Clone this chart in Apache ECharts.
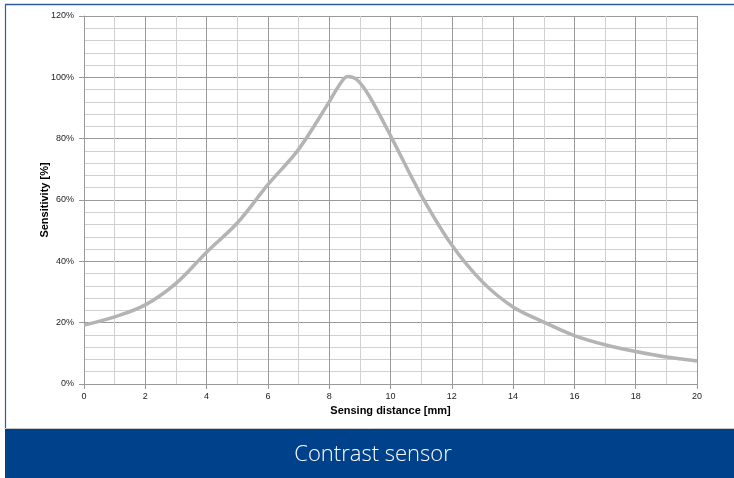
<!DOCTYPE html>
<html>
<head>
<meta charset="utf-8">
<script src="https://cdn.jsdelivr.net/npm/echarts@6/dist/echarts.min.js"></script>
<style>
html,body{margin:0;padding:0;background:#fff;}
#chart{width:734px;height:478px;}
</style>
</head>
<body>
<div id="chart"></div>
<script>
var distances = [0, 1, 2, 3, 4, 5, 6, 7, 8, 8.3, 8.6, 8.9, 9.3, 10, 11, 12, 13, 14, 15, 16, 17, 18, 19, 20];
var sensitivity = [19.2, 21.9, 25.8, 32.8, 43, 52.5, 65, 76.5, 92, 97, 100.3, 99.3, 94, 81, 61.6, 45.3, 33.3, 25.1, 20.2, 15.8, 12.8, 10.6, 8.8, 7.5];
var chartTitle = "Contrast sensor";
var xName = "Sensing distance [mm]";
var yName = "Sensitivity [%]";

var points = distances.map(function (d, i) { return [d, sensitivity[i]]; });
var chart = echarts.init(document.getElementById('chart'), null, {renderer: 'canvas'});
var font = "'Liberation Sans', Arial, sans-serif";
chart.setOption({
  animation: false,
  grid: {left: 84, right: 37, top: 16, bottom: 94},
  xAxis: {
    type: 'value', min: 0, max: 20, interval: 2,
    name: xName, nameLocation: 'middle', nameGap: 21, nameMoveOverlap: false,
    nameTextStyle: {fontFamily: font, fontSize: 11, fontWeight: 'bold', color: '#000'},
    axisLine: {show: true, lineStyle: {color: '#999', width: 1}},
    axisTick: {show: true, length: 5, lineStyle: {color: '#999'}},
    axisLabel: {fontFamily: font, fontSize: 9, color: '#222', margin: 8},
    splitLine: {show: true, lineStyle: {color: '#9a9a9a', width: 1}},
    minorTick: {show: false, splitNumber: 2},
    minorSplitLine: {show: true, lineStyle: {color: '#d0d0d0', width: 1}}
  },
  yAxis: {
    type: 'value', min: 0, max: 120, interval: 20,
    name: yName, nameLocation: 'middle', nameGap: 34, nameMoveOverlap: false,
    nameTextStyle: {fontFamily: font, fontSize: 11, fontWeight: 'bold', color: '#000'},
    axisLine: {show: true, lineStyle: {color: '#999', width: 1}},
    axisTick: {show: true, length: 5, lineStyle: {color: '#999'}},
    axisLabel: {fontFamily: font, fontSize: 9, color: '#222', margin: 10, formatter: '{value}%'},
    splitLine: {show: true, lineStyle: {color: '#9a9a9a', width: 1}},
    minorTick: {show: false, splitNumber: 5},
    minorSplitLine: {show: true, lineStyle: {color: '#d0d0d0', width: 1}}
  },
  series: [{
    type: 'line', data: points, smooth: 0.35, showSymbol: false,
    lineStyle: {color: '#b4b4b4', width: 3.5}
  }],
  graphic: [
    {type: 'line', shape: {x1: 5, y1: 4.5, x2: 734, y2: 4.5}, style: {stroke: '#2e5d9b', lineWidth: 1.5}},
    {type: 'line', shape: {x1: 5.5, y1: 4, x2: 5.5, y2: 429}, style: {stroke: '#2e5d9b', lineWidth: 1.2}},
    {type: 'line', shape: {x1: 5, y1: 428.5, x2: 734, y2: 428.5}, style: {stroke: '#c8c8c8', lineWidth: 1}},
    {type: 'rect', shape: {x: 5, y: 429, width: 729, height: 49}, style: {fill: '#00418b'}},
    {type: 'text', x: 373, y: 455, style: {text: chartTitle, fill: '#fff', font: "300 22px 'Open Sans', Lato, sans-serif", textAlign: 'center', textVerticalAlign: 'middle'}}
  ]
});
</script>
</body>
</html>
